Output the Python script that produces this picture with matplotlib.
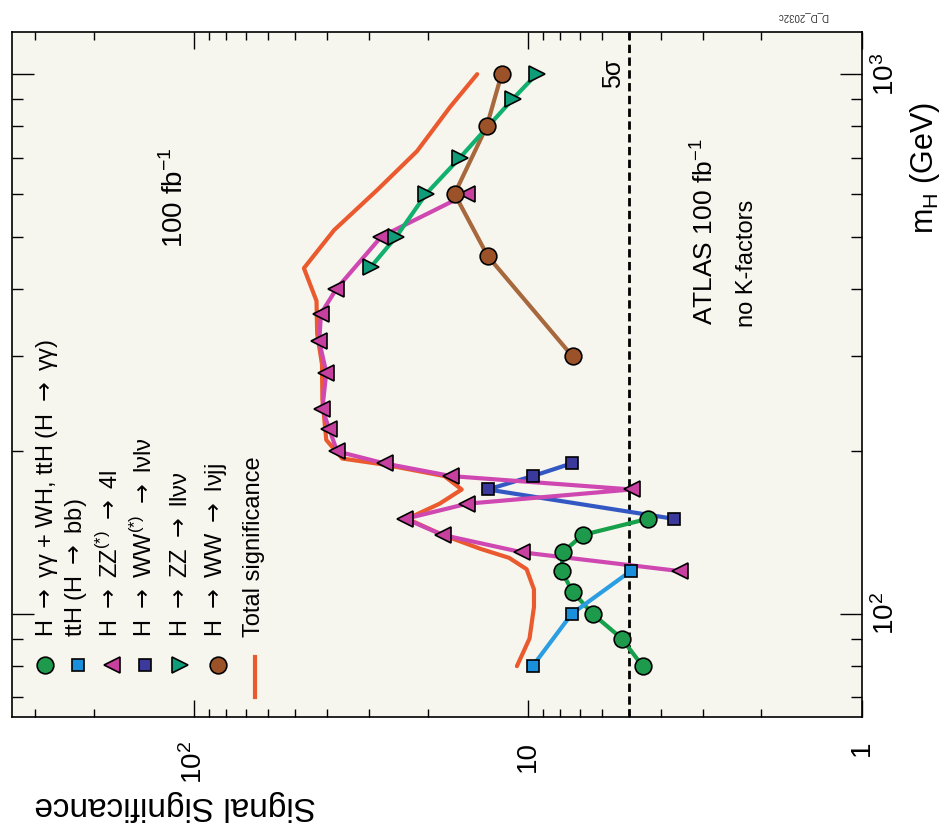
import matplotlib
matplotlib.use("Agg")
import matplotlib.pyplot as plt
from matplotlib.ticker import FixedLocator, NullFormatter

plt.rcParams['font.family'] = ['Liberation Sans', 'DejaVu Sans']
plt.rcParams['mathtext.fontset'] = 'dejavusans'

# Higgs mass points (GeV) and expected signal significance, 100 fb^-1
mh_gamgam = [80, 90, 100, 110, 120, 130, 140, 150]
sig_gamgam = [4.54, 5.24, 6.41, 7.36, 7.94, 7.88, 6.86, 4.38]

mh_tth = [80, 100, 120]
sig_tth = [9.69, 7.40, 4.93]

mh_zz4l = [120, 130, 140, 150, 160, 170, 180, 190, 200, 220, 240, 280, 320, 360, 400, 500, 600]
sig_zz4l = [3.51, 10.4, 18.0, 23.3, 15.2, 4.9, 17.0, 26.9, 37.3, 39.4, 41.3, 40.2, 42.2, 41.7, 37.5, 27.5, 15.2]

mh_wwlvlv = [150, 170, 180, 190]
sig_wwlvlv = [3.66, 13.2, 9.69, 7.40]

mh_zzllvv = [440, 500, 600, 700, 900, 1000]
sig_zzllvv = [29.5, 24.8, 20.2, 16.0, 11.1, 9.43]

mh_wwlvjj = [300, 460, 600, 800, 1000]
sig_wwlvjj = [7.36, 13.2, 16.6, 13.3, 12.0]

mh_total = [80, 90, 103, 111, 121, 127, 132, 140, 150, 160, 170, 180, 189, 194, 210,
            250, 290, 330, 380, 437, 514, 610, 720, 870, 1000]
sig_total = [10.8, 9.9, 9.6, 9.6, 10.1, 11.4, 13.9, 18.0, 23.0, 18.4, 15.8, 17.8, 26.9, 36.0, 40.2,
             41.3, 41.4, 42.8, 43.0, 46.9, 38.1, 28.3, 21.5, 17.1, 14.2]

discovery_sigma = 5

ARROW = '$\\rightarrow$'
legend_labels = [
    f'H {ARROW} γγ + WH, ttH (H {ARROW} γγ)',
    f'ttH (H {ARROW} bb)',
    f'H {ARROW} ZZ$^{{\\mathregular{{(*)}}}}$ {ARROW} 4l',
    f'H {ARROW} WW$^{{\\mathregular{{(*)}}}}$ {ARROW} lνlν',
    f'H {ARROW} ZZ {ARROW} llνν',
    f'H {ARROW} WW {ARROW} lνjj',
    'Total significance',
]

sig_ticks = [1, 10, 100]
sig_ticklabels = ['1', '10', '$\\mathregular{10^{2}}$']
mh_ticks = [100, 1000]
mh_ticklabels = ['$\\mathregular{10^{2}}$', '$\\mathregular{10^{3}}$']

W, H = 944, 823
fig = plt.figure(figsize=(W / 100, H / 100), dpi=100)
fig.patch.set_facecolor('white')

# axes box in pixel units
L, R, T, B = 12, 862, 32, 717
ax = fig.add_axes([L / W, 1 - B / H, (R - L) / W, (B - T) / H])
ax.set_facecolor('#f7f6ee')

ax.set_xscale('log')
ax.set_yscale('log')
ax.set_xlim(351, 1)
ax.set_ylim(64.4, 1197)

# styles: (line colour, face colour, marker, marker size)
styles = {
    'gamgam': ('#17a04a', '#1d9a4b', 'o', 12),
    'tth': ('#2b9de3', '#1a8fdc', 's', 9),
    'zz4l': ('#cf48b2', '#c7409f', '<', 11),
    'wwlvlv': ('#3358c4', '#3b3a9c', 's', 9),
    'zzllvv': ('#12b06e', '#0f9c78', '>', 11),
    'wwlvjj': ('#a6683c', '#9c5228', 'o', 12),
}
total_color = '#ea5a2e'

ax.plot(sig_total, mh_total, '-', color=total_color, lw=3, zorder=2,
        solid_joinstyle='round', solid_capstyle='round')

series = [
    ('gamgam', sig_gamgam, mh_gamgam),
    ('tth', sig_tth, mh_tth),
    ('wwlvlv', sig_wwlvlv, mh_wwlvlv),
    ('zz4l', sig_zz4l, mh_zz4l),
    ('wwlvjj', sig_wwlvjj, mh_wwlvjj),
    ('zzllvv', sig_zzllvv, mh_zzllvv),
]
for key, s, m in series:
    lc, fc, mk, ms = styles[key]
    ax.plot(s, m, '-', color=lc, lw=3, zorder=3, solid_joinstyle='round')
for key, s, m in series:
    lc, fc, mk, ms = styles[key]
    ax.plot(s, m, ls='none', marker=mk, ms=ms, mfc=fc, mec='black', mew=1.2, zorder=4)

ax.axvline(discovery_sigma, color='black', ls=(0, (3, 1.6)), lw=2, zorder=1)

# ticks
ax.xaxis.set_major_locator(FixedLocator(sig_ticks))
ax.xaxis.set_minor_locator(FixedLocator([2, 3, 4, 5, 6, 7, 8, 9, 20, 30, 40, 50, 60, 70, 80, 90, 200, 300]))
ax.xaxis.set_minor_formatter(NullFormatter())
ax.set_xticks(sig_ticks, labels=sig_ticklabels, rotation=90, fontsize=20)
ax.yaxis.set_major_locator(FixedLocator(mh_ticks))
ax.yaxis.set_minor_locator(FixedLocator([70, 80, 90, 200, 300, 400, 500, 600, 700, 800, 900]))
ax.yaxis.set_minor_formatter(NullFormatter())
ax.set_yticks(mh_ticks, labels=mh_ticklabels, rotation=90, va='center', fontsize=20)

ax.tick_params(axis='x', which='both', direction='in', top=True, bottom=True,
               labeltop=False, labelbottom=True, width=1, pad=17)
ax.tick_params(axis='x', which='major', length=12)
ax.tick_params(axis='x', which='minor', length=6)
ax.tick_params(axis='y', which='both', direction='in', left=True, right=True,
               labelleft=False, labelright=True, width=1, pad=7)
ax.tick_params(axis='y', which='major', length=16)
ax.tick_params(axis='y', which='minor', length=8)
for sp in ax.spines.values():
    sp.set_linewidth(1.2)


def axfrac(px, py):
    return (px - L) / (R - L), (B - py) / (B - T)


# legend, laid out by hand in columns
marker_px = [45, 78, 112, 145, 180, 218]
legend_keys = ['gamgam', 'tth', 'zz4l', 'wwlvlv', 'zzllvv', 'wwlvjj']
for key, px in zip(legend_keys, marker_px):
    lc, fc, mk, ms = styles[key]
    ax.plot(*axfrac(px, 665), transform=ax.transAxes, marker=mk, ms=ms, mfc=fc,
            mec='black', mew=1.2, ls='none', clip_on=False, zorder=5)
x0, y0 = axfrac(255, 657)
x1, y1 = axfrac(255, 697)
ax.plot([x0, x1], [y0, y1], transform=ax.transAxes, color=total_color, lw=3, zorder=5)

text_base_px = [53, 82, 118, 152, 187, 222, 260]
for lab, px in zip(legend_labels, text_base_px):
    ax.text(*axfrac(px, 637), lab, transform=ax.transAxes, rotation=90,
            rotation_mode='anchor', ha='left', va='baseline', fontsize=17)

ax.text(*axfrac(183, 248), '100 fb$^{\\mathregular{-1}}$', transform=ax.transAxes, rotation=90,
        rotation_mode='anchor', ha='left', va='baseline', fontsize=20)
ax.text(*axfrac(713, 325), 'ATLAS 100 fb$^{\\mathregular{-1}}$', transform=ax.transAxes, rotation=90,
        rotation_mode='anchor', ha='left', va='baseline', fontsize=19)
ax.text(*axfrac(753, 327), 'no K-factors', transform=ax.transAxes, rotation=90,
        rotation_mode='anchor', ha='left', va='baseline', fontsize=17)
ax.text(*axfrac(620, 88), '5σ', transform=ax.transAxes, rotation=90,
        rotation_mode='anchor', ha='left', va='baseline', fontsize=18)

fig.text(175 / W, 1 - 805 / H, 'Signal Significance', rotation=180,
         ha='center', va='center', fontsize=24)
fig.text(925 / W, 1 - 168 / H, 'm$_{\\mathregular{H}}$ (GeV)', rotation=90,
         ha='center', va='center', fontsize=22)
fig.text(803 / W, 1 - 17 / H, 'D_D_2032c', rotation=180,
         ha='center', va='center', fontsize=7, color='#333333')

fig.savefig('out.png', dpi=100, facecolor='white')
